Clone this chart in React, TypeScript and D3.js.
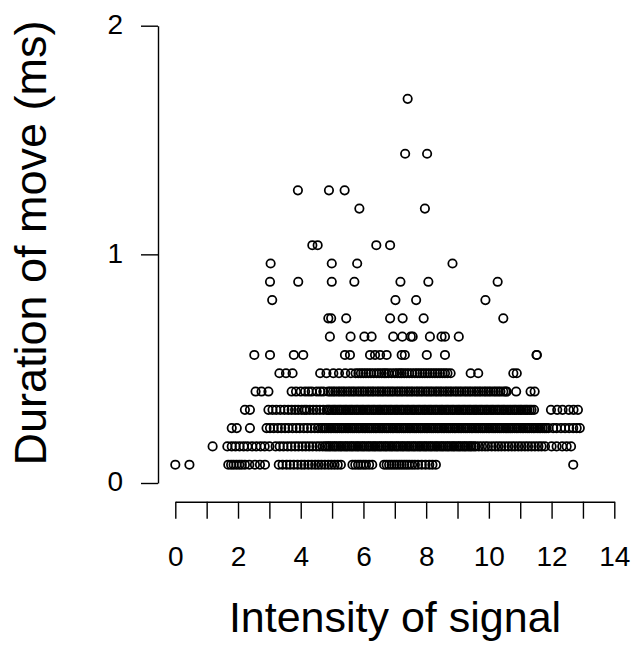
import {useEffect, useRef} from "react";
import * as d3 from "d3";

// duration rows (ms) — values are quantised in steps of 0.08
const durations = [0.08, 0.16, 0.24, 0.32, 0.40, 0.48, 0.56, 0.64, 0.72, 0.80, 0.88, 0.96, 1.04, 1.20, 1.28, 1.44, 1.68];

// intensity values read per duration row
const intensity008 = [0.00, 0.45, 1.69, 1.78, 1.86, 1.95, 2.04, 2.12, 2.22, 2.36, 2.54, 2.70, 2.86, 3.30, 3.42, 3.55, 3.66, 3.78,
    3.90, 4.02, 4.12, 4.24, 4.35, 4.46, 4.56, 4.66, 4.77, 4.88, 4.98, 5.08, 5.18, 5.28, 5.65, 5.74, 5.83, 5.91, 6.00, 6.08, 6.18,
    6.28, 6.66, 6.74, 6.82, 6.90, 6.98, 7.06, 7.14, 7.22, 7.30, 7.38, 7.46, 7.55, 7.64, 7.74, 7.86, 7.98, 8.10, 8.20, 8.31, 12.69];
const intensity016 = [1.19, 1.66, 1.80, 1.92, 2.05, 2.18, 2.30, 2.45, 2.58, 2.72, 2.85, 3.00, 3.20, 3.33, 3.45, 3.58, 3.70, 3.82,
    3.93, 4.05, 4.16, 4.27, 4.38, 4.50, 4.60, 4.70, 4.78, 4.84, 4.90, 4.95, 5.02, 5.08, 5.13, 5.20, 5.26, 5.31, 5.38, 5.44, 5.49,
    5.56, 5.62, 5.67, 5.74, 5.80, 5.85, 5.92, 5.98, 6.03, 6.10, 6.16, 6.21, 6.28, 6.34, 6.39, 6.46, 6.52, 6.57, 6.64, 6.70, 6.75,
    6.82, 6.88, 6.93, 7.00, 7.06, 7.11, 7.18, 7.24, 7.29, 7.36, 7.42, 7.47, 7.54, 7.60, 7.65, 7.72, 7.78, 7.83, 7.90, 7.96, 8.01,
    8.08, 8.14, 8.19, 8.26, 8.32, 8.37, 8.44, 8.50, 8.55, 8.62, 8.68, 8.73, 8.80, 8.86, 8.91, 8.98, 9.04, 9.09, 9.16, 9.22, 9.27,
    9.34, 9.40, 9.45, 9.52, 9.58, 9.68, 9.78, 9.88, 9.97, 10.09, 10.20, 10.30, 10.40, 10.51, 10.62, 10.73, 10.83, 10.94, 11.04,
    11.15, 11.25, 11.36, 11.47, 11.58, 11.68, 11.79, 12.00, 12.16, 12.34, 12.48, 12.62];
const intensity024 = [1.80, 1.96, 2.38, 2.91, 3.02, 3.14, 3.27, 3.38, 3.50, 3.61, 3.74, 3.86, 3.97, 4.10, 4.21, 4.33, 4.45, 4.55,
    4.64, 4.70, 4.76, 4.81, 4.88, 4.94, 4.99, 5.06, 5.12, 5.17, 5.24, 5.30, 5.35, 5.42, 5.48, 5.53, 5.60, 5.66, 5.71, 5.78, 5.84,
    5.89, 5.96, 6.02, 6.07, 6.14, 6.20, 6.25, 6.32, 6.38, 6.43, 6.50, 6.56, 6.61, 6.68, 6.74, 6.79, 6.86, 6.92, 6.97, 7.04, 7.10,
    7.15, 7.22, 7.28, 7.33, 7.40, 7.46, 7.51, 7.58, 7.64, 7.69, 7.76, 7.82, 7.87, 7.94, 8.00, 8.05, 8.12, 8.18, 8.23, 8.30, 8.36,
    8.41, 8.48, 8.54, 8.59, 8.66, 8.72, 8.77, 8.84, 8.90, 8.95, 9.02, 9.08, 9.13, 9.20, 9.26, 9.31, 9.38, 9.44, 9.49, 9.56, 9.62,
    9.67, 9.74, 9.80, 9.85, 9.92, 9.98, 10.03, 10.10, 10.16, 10.21, 10.28, 10.34, 10.39, 10.46, 10.52, 10.57, 10.64, 10.70, 10.75,
    10.82, 10.88, 10.93, 11.00, 11.06, 11.11, 11.18, 11.24, 11.29, 11.36, 11.42, 11.47, 11.54, 11.60, 11.65, 11.72, 11.78, 11.83,
    11.90, 12.05, 12.16, 12.30, 12.43, 12.56, 12.69, 12.80, 12.90];
const intensity032 = [2.22, 2.38, 2.97, 3.10, 3.22, 3.35, 3.48, 3.60, 3.71, 3.82, 3.92, 4.03, 4.12, 4.19, 4.29, 4.40, 4.50, 4.61,
    4.72, 4.83, 4.88, 4.93, 5.00, 5.06, 5.11, 5.18, 5.24, 5.29, 5.36, 5.42, 5.47, 5.54, 5.60, 5.65, 5.72, 5.78, 5.83, 5.90, 5.96,
    6.01, 6.08, 6.14, 6.19, 6.26, 6.32, 6.37, 6.44, 6.50, 6.55, 6.62, 6.68, 6.73, 6.80, 6.86, 6.91, 6.98, 7.04, 7.09, 7.16, 7.22,
    7.27, 7.34, 7.40, 7.45, 7.52, 7.58, 7.63, 7.70, 7.76, 7.81, 7.88, 7.94, 7.99, 8.06, 8.12, 8.17, 8.24, 8.30, 8.35, 8.42, 8.48,
    8.53, 8.60, 8.66, 8.71, 8.78, 8.84, 8.89, 8.96, 9.02, 9.07, 9.14, 9.20, 9.25, 9.32, 9.38, 9.43, 9.50, 9.56, 9.61, 9.68, 9.74,
    9.79, 9.86, 9.92, 9.97, 10.04, 10.10, 10.15, 10.22, 10.28, 10.33, 10.40, 10.46, 10.51, 10.58, 10.64, 10.69, 10.76, 10.82,
    10.87, 10.94, 11.00, 11.05, 11.12, 11.18, 11.23, 11.30, 11.36, 11.44, 11.98, 12.18, 12.35, 12.55, 12.70, 12.84];
const intensity040 = [2.56, 2.75, 2.97, 3.71, 3.85, 4.00, 4.14, 4.25, 4.35, 4.51, 4.62, 4.72, 4.88, 4.95, 5.03, 5.10, 5.19, 5.26,
    5.34, 5.41, 5.50, 5.57, 5.65, 5.72, 5.81, 5.88, 5.96, 6.03, 6.12, 6.19, 6.27, 6.34, 6.43, 6.50, 6.58, 6.65, 6.74, 6.81, 6.89,
    6.96, 7.05, 7.12, 7.20, 7.27, 7.36, 7.43, 7.51, 7.58, 7.67, 7.74, 7.82, 7.89, 7.98, 8.05, 8.13, 8.20, 8.29, 8.36, 8.44, 8.51,
    8.60, 8.67, 8.75, 8.82, 8.91, 8.98, 9.06, 9.13, 9.22, 9.29, 9.37, 9.44, 9.53, 9.60, 9.68, 9.75, 9.84, 9.91, 9.99, 10.06, 10.15,
    10.22, 10.30, 10.37, 10.46, 10.53, 10.57, 10.87, 11.33, 11.46];
const intensity048 = [3.32, 3.53, 3.74, 4.62, 4.82, 5.04, 5.22, 5.42, 5.60, 5.75, 5.84, 5.92, 6.00, 6.08, 6.16, 6.24, 6.33, 6.42,
    6.50, 6.58, 6.66, 6.72, 6.80, 6.90, 7.00, 7.08, 7.16, 7.22, 7.30, 7.38, 7.46, 7.55, 7.64, 7.72, 7.80, 7.88, 7.96, 8.04, 8.12,
    8.20, 8.28, 8.36, 8.44, 8.52, 8.60, 8.68, 8.78, 9.42, 9.66, 10.78, 10.89];
const intensity056 = [2.52, 3.02, 3.78, 4.08, 5.41, 5.57, 6.21, 6.37, 6.53, 6.74, 7.22, 7.32, 8.02, 8.60, 11.52, 11.53];
const intensity064 = [4.93, 5.59, 6.03, 6.26, 6.95, 7.24, 7.51, 7.57, 8.12, 8.49, 8.60, 9.04];
const intensity072 = [4.88, 4.97, 5.45, 6.85, 7.25, 7.92, 10.46];
const intensity080 = [3.09, 7.02, 7.68, 9.89];
const intensity088 = [3.02, 3.92, 4.99, 5.71, 7.18, 8.07, 10.28];
const intensity096 = [3.04, 4.99, 5.80, 8.84];
const intensity104 = [4.37, 4.54, 6.41, 6.85];
const intensity120 = [5.87, 7.96];
const intensity128 = [3.91, 4.90, 5.40];
const intensity144 = [7.33, 8.03];
const intensity168 = [7.41];

const intensityRows = [intensity008, intensity016, intensity024, intensity032, intensity040, intensity048, intensity056,
    intensity064, intensity072, intensity080, intensity088, intensity096, intensity104, intensity120, intensity128,
    intensity144, intensity168];

const xTicks = d3.range(0, 15);
const yTicks = [0, 1, 2];

const W = 634, H = 648;
const FONT = "'Liberation Sans', Arial, Helvetica, sans-serif";

const App = () => {
    const ref = useRef<SVGSVGElement | null>(null);

    useEffect(() => {
        const svg = d3.select(ref.current);
        svg.selectAll("*").remove();

        const x = d3.scaleLinear().domain([0, 14]).range([175.3, 614.3]);
        const y = d3.scaleLinear().domain([0, 2]).range([483, 25.7]);

        const points = durations.flatMap((d, i) => intensityRows[i].map(v => ({x: v, y: d})));

        svg.append("g").selectAll("circle").data(points).enter().append("circle")
            .attr("cx", d => x(d.x)).attr("cy", d => y(d.y)).attr("r", 4.2)
            .attr("fill", "none").attr("stroke", "#000").attr("stroke-width", 1.75);

        // x axis, offset below the plot like R
        const gx = svg.append("g").attr("transform", "translate(0,501.7)")
            .call(d3.axisBottom(x).tickValues(xTicks).tickSize(17).tickSizeOuter(0).tickPadding(27)
                .tickFormat(d => (+d % 2 === 0 ? String(d) : "")));
        // y axis
        const gy = svg.append("g").attr("transform", "translate(158,0)")
            .call(d3.axisLeft(y).tickValues(yTicks).tickSize(17).tickSizeOuter(0).tickPadding(18)
                .tickFormat(d3.format("d")));

        [gx, gy].forEach(g => {
            g.select(".domain").attr("stroke-width", 1.4);
            g.selectAll(".tick line").attr("stroke-width", 1.4);
            g.selectAll("text").attr("font-size", 28).attr("font-family", FONT).attr("fill", "#000");
        });
        gy.selectAll("text").attr("dy", "0.28em");

        svg.append("text").attr("x", 395).attr("y", 632).attr("text-anchor", "middle")
            .attr("font-size", 43).attr("font-family", FONT).text("Intensity of signal");
        svg.append("text").attr("transform", "translate(46,243) rotate(-90)").attr("text-anchor", "middle")
            .attr("font-size", 45).attr("font-family", FONT).text("Duration of move (ms)");
    }, []);

    return <svg ref={ref} width={W} height={H} style={{position: "absolute", left: 0, top: 0, background: "#fff"}}/>;
};

export default App;
